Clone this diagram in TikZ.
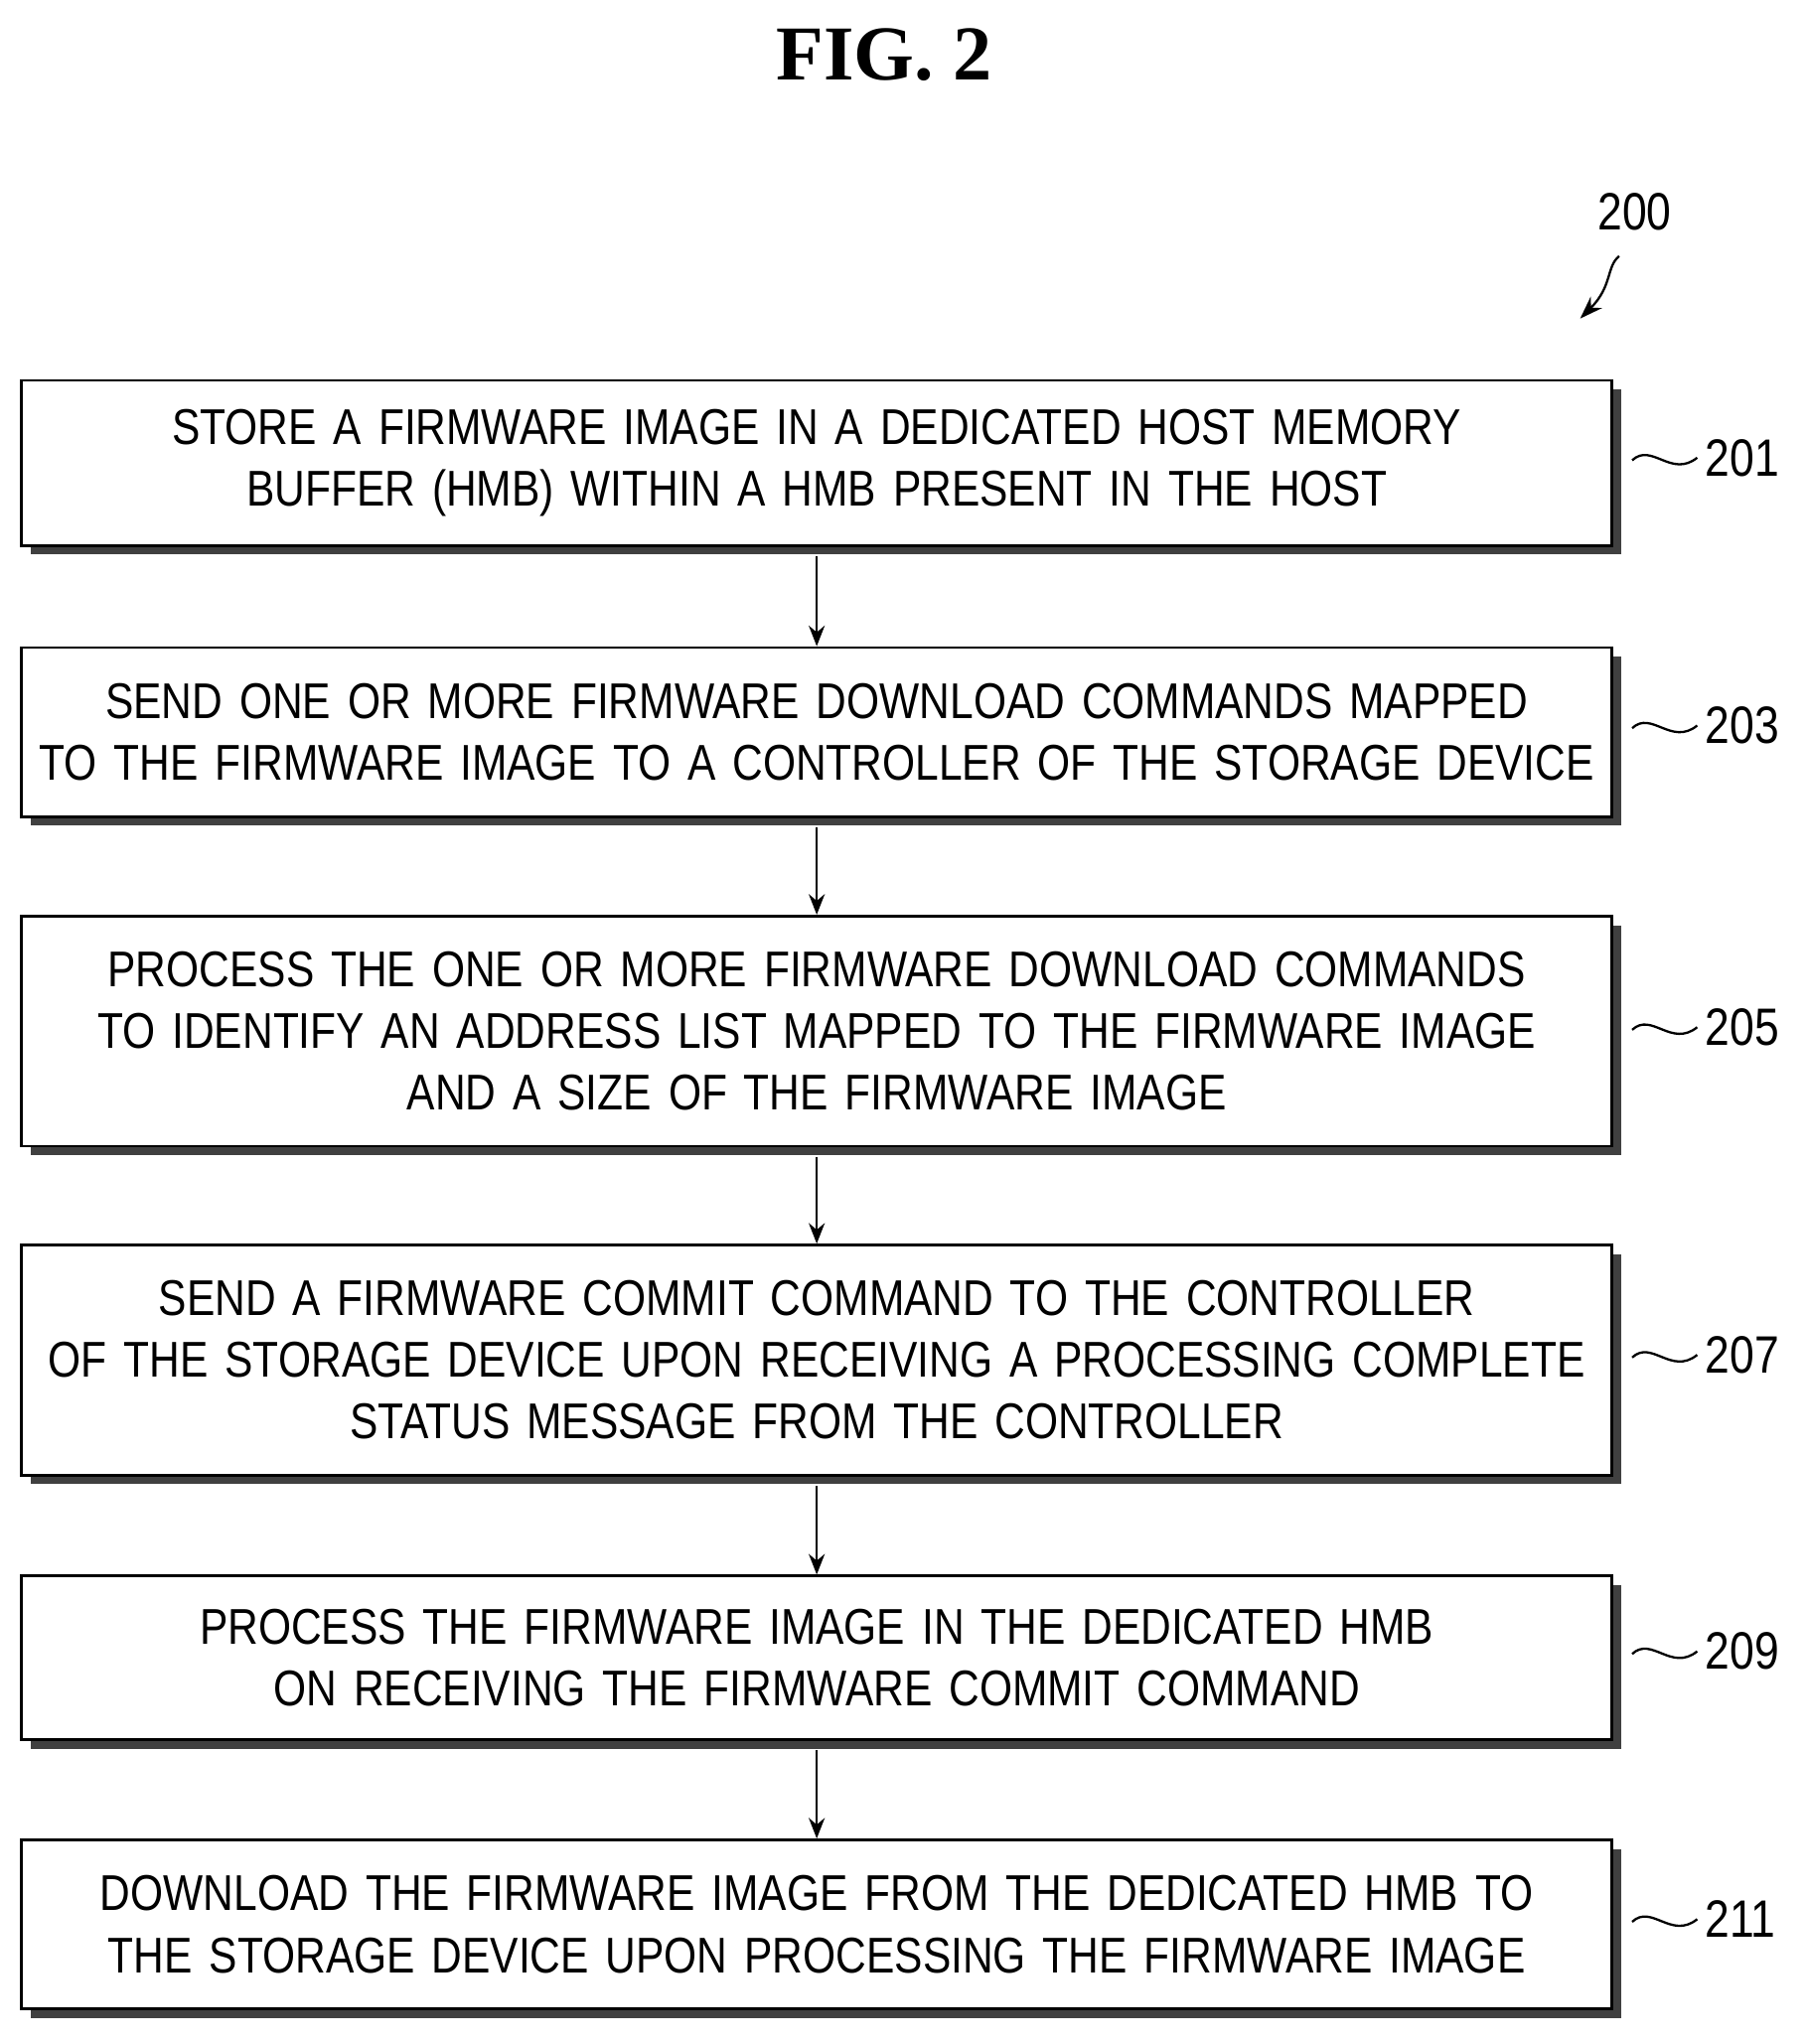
\documentclass[tikz,border=0pt]{standalone}
\usepackage{fontspec}
\setmainfont{Liberation Sans}[FakeStretch=0.84]
\newfontfamily\titlefont{Liberation Serif}
\usetikzlibrary{positioning,shadows,arrows.meta}
\begin{document}
\begin{tikzpicture}
[x=0.02cm,y=-0.02cm,
stepbox/.style={draw=black, line width=1.2pt, fill=white, text width=24.2cm, minimum width=24.46cm, align=center,
  font=\fontsize{22}{27}\selectfont, inner sep=0pt,
  drop shadow={shadow xshift=4pt, shadow yshift=-4pt, fill=black!75, opacity=1}},
arrow/.style={line width=1pt, -{Stealth[length=9pt,width=7pt]}},
tag/.style={font=\fontsize{23}{27}\selectfont, anchor=west},
squig/.style={line width=1pt}]
\useasboundingbox (0,0) rectangle (1390,1572);
\node (title) at (680,42) {\fontsize{34}{40}\selectfont\bfseries\titlefont FIG. 2};
\node (ref) at (1257,163) [font=\fontsize{23}{27}\selectfont] {200};
\draw[line width=1pt, -{Stealth[length=10pt,width=7pt]}] (1245,197) .. controls (1235,205) and (1240,220) .. (1215,245);

\node (s201) [stepbox, minimum height=2.54cm] at (628,356) {STORE A FIRMWARE IMAGE IN A DEDICATED HOST MEMORY\\BUFFER (HMB) WITHIN A HMB PRESENT IN THE HOST};
\node (s203) [stepbox, minimum height=2.6cm] at (628,563) {SEND ONE OR MORE FIRMWARE DOWNLOAD COMMANDS MAPPED\\TO THE FIRMWARE IMAGE TO A CONTROLLER OF THE STORAGE DEVICE};
\node (s205) [stepbox, minimum height=3.54cm] at (628,793) {PROCESS THE ONE OR MORE FIRMWARE DOWNLOAD COMMANDS\\TO IDENTIFY AN ADDRESS LIST MAPPED TO THE FIRMWARE IMAGE\\AND A SIZE OF THE FIRMWARE IMAGE};
\node (s207) [stepbox, minimum height=3.54cm] at (628,1046) {SEND A FIRMWARE COMMIT COMMAND TO THE CONTROLLER\\OF THE STORAGE DEVICE UPON RECEIVING A PROCESSING COMPLETE\\STATUS MESSAGE FROM THE CONTROLLER};
\node (s209) [stepbox, minimum height=2.52cm] at (628,1275) {PROCESS THE FIRMWARE IMAGE IN THE DEDICATED HMB\\ON RECEIVING THE FIRMWARE COMMIT COMMAND};
\node (s211) [stepbox, minimum height=2.6cm] at (628,1480) {DOWNLOAD THE FIRMWARE IMAGE FROM THE DEDICATED HMB TO\\THE STORAGE DEVICE UPON PROCESSING THE FIRMWARE IMAGE};

\foreach \a/\b in {s201/s203,s203/s205,s205/s207,s207/s209,s209/s211}
  \draw[arrow] ([yshift=-4pt]\a.south) -- (\b.north);

\foreach \n/\y in {201/352,203/558,205/790,207/1042,209/1270,211/1476}{
  \node (l\n) [tag] at (1305,\y) {\n};
  \draw[squig] (1255,\y+2) .. controls (1270,\y-12) and (1285,\y+16) .. (l\n.west);
}
\end{tikzpicture}
\end{document}
